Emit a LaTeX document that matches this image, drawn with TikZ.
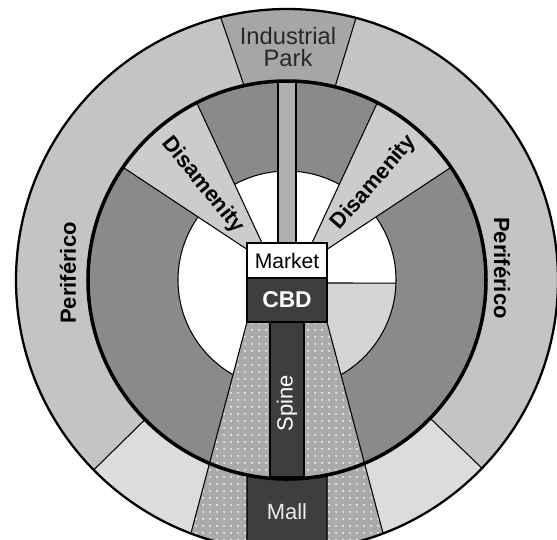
\documentclass[tikz,border=0pt]{standalone}
\usepackage{fontspec}
\setmainfont{Liberation Sans}
\usetikzlibrary{patterns.meta}
\definecolor{perigray}{RGB}{196,196,196}
\definecolor{ringgray}{RGB}{138,138,138}
\definecolor{parkgray}{RGB}{166,166,166}
\definecolor{disgray}{RGB}{204,204,204}
\definecolor{stripgray}{RGB}{176,176,176}
\definecolor{sectorgray}{RGB}{170,170,170}
\definecolor{squatgray}{RGB}{220,220,220}
\definecolor{quadgray}{RGB}{212,212,212}
\definecolor{cbddark}{RGB}{62,62,62}
\definecolor{parktext}{RGB}{40,40,40}

\tikzdeclarepattern{
  name=spotgrid,
  type=uncolored,
  bounding box={(-2pt,-2pt) and (2pt,2pt)},
  tile size={(4pt,4pt)},
  code={\pgfpathcircle{\pgfpointorigin}{0.65pt}\pgfusepath{fill}}
}

\begin{document}
\begin{tikzpicture}[x=0.02cm, y=0.02cm,
    zone/.style={draw=black, line width=0.6pt},
    box/.style={rectangle, draw=black, line width=0.8pt, minimum width=1.6cm,
                inner sep=0pt, outer sep=0pt, font=\fontsize{12}{14}\selectfont},
    boldlbl/.style={font=\fontsize{12.5}{15}\selectfont\bfseries, inner sep=0pt},
    lbl/.style={font=\fontsize{12.5}{14}\selectfont, inner sep=0pt},
    spots/.style={pattern=spotgrid, pattern color=white!90!gray}
]
\def\Rout{271}
\def\Rmid{199}
\def\Rin{109}

\clip (-287,-259) rectangle (270,280);

% Periferico ring
\fill[perigray] (0,0) circle (\Rout);
\begin{scope}
  \clip (0,0) circle (\Rout);
  % light sectors beside the mall
  \filldraw[zone, fill=squatgray] (0,0) -- (224.5:400) -- (270:400) -- cycle;
  \filldraw[zone, fill=squatgray] (0,0) -- (316:400) -- (270:400) -- cycle;
  % industrial park
  \filldraw[zone, fill=parkgray] (-38,180) -- (-74,285) -- (76,285) -- (44,180) -- cycle;
\end{scope}

% Inner ring and centre
\fill[ringgray] (0,0) circle (\Rmid);
\fill[white] (0,0) circle (\Rin);
\begin{scope}
  \clip (0,0) circle (\Rin);
  \fill[quadgray] (40,-3) rectangle (120,-120);
\end{scope}
\draw[zone] (40,-3) -- (-1.6:\Rin);
\draw[zone] (0,0) circle (\Rin);

% Disamenity wedges
\filldraw[zone, fill=disgray] (-25,37) -- (117:\Rmid)
    arc[start angle=117, end angle=145.5, radius=\Rmid] -- (-39,30) -- cycle;
\filldraw[zone, fill=disgray] (25,37) -- (63:\Rmid)
    arc[start angle=63, end angle=34.5, radius=\Rmid] -- (39,30) -- cycle;

% Industrial strip
\filldraw[zone, fill=stripgray] (-9,37) rectangle (9,199);

% Sector, mall and spine
\begin{scope}
  \clip (0,0) circle (\Rout);
  \fill[sectorgray] (-40,-42) -- (-109,-302) -- (109,-302) -- (40,-42) -- cycle;
  \filldraw[zone, spots] (-40,-42) -- (-109,-302) -- (109,-302) -- (40,-42) -- cycle;
  \filldraw[zone, fill=cbddark] (-40,-300) -- (258.4:\Rmid)
      arc[start angle=258.4, end angle=281.6, radius=\Rmid] -- (40,-300) -- cycle;
\end{scope}
\filldraw[zone, fill=cbddark] (-17,-42) rectangle (17,-197);

% Ring outlines
\draw[line width=2pt] (0,0) circle (\Rmid);
\draw[line width=1.3pt] (0,0) circle (\Rout);

% Market and CBD
\node[box, fill=white, minimum height=0.7cm] (market) at (0,19.5) {Market};
\node[box, fill=cbddark, text=white, minimum height=0.88cm,
      font=\fontsize{13}{15}\selectfont\bfseries] (cbd) at (0,-20) {CBD};

% Labels
\node[boldlbl, rotate=90]  (periwest) at (-219,7)  {Periférico};
\node[boldlbl, rotate=-90] (perieast) at (215,12)  {Periférico};
\node[boldlbl, rotate=-51] (diswest)  at (-84,95)  {Disamenity};
\node[boldlbl, rotate=49]  (diseast)  at (87,97)   {Disamenity};
\node[lbl, align=center, text=parktext, font=\fontsize{13.5}{13}\selectfont]
     (park) at (1,233) {Industrial\\Park};
\node[lbl, text=white, rotate=90] (spine) at (0,-123) {Spine};
\node[lbl, text=white!92!black]   (mall)  at (0,-232) {Mall};

\end{tikzpicture}
\end{document}
